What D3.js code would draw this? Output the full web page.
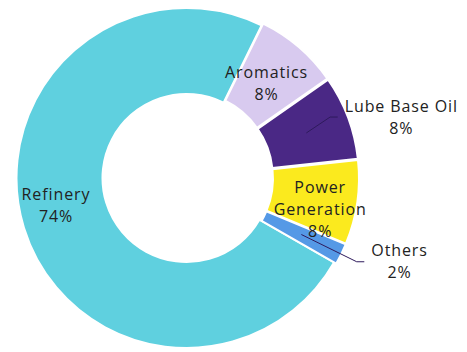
<!DOCTYPE html>
<html>
<head>
<meta charset="utf-8">
<script src="https://cdn.jsdelivr.net/npm/d3@7"></script>
<style>
  html, body { margin: 0; padding: 0; background: #ffffff; }
  svg { display: block; }
  text { font-family: "Open Sans", "DejaVu Sans", sans-serif; font-size: 16px; letter-spacing: 0.9px; fill: #222222; }
</style>
</head>
<body>
<svg id="chart" width="467" height="352"></svg>
<script>
// ---- Data ----
const categories = ["Refinery", "Aromatics", "Lube Base Oil", "Power Generation", "Others"];
const values = [74, 8, 8, 8, 2];
const colors = ["#5fd0df", "#d8caef", "#4a2885", "#fbea1e", "#5599e6"];
// label lines for each slice (category name may wrap)
const labelLines = [["Refinery"], ["Aromatics"], ["Lube Base Oil"], ["Power", "Generation"], ["Others"]];
const labelMode = ["inside", "inside", "outside", "inside", "outside"];

// ---- Layout ----
const W = 467, H = 352;
const cx = 186.5, cy = 178;
const outerR = 170, innerR = 84;
const pull = [0, 2.5, 2.5, 2.5, 2.5];
const startDeg = 119.8;
const insideLabel = { // radius + nudges for inside labels
  0: { r: 133, dx: -3.3, dy: -11.4 },
  1: { r: 123, dx: 0, dy: -1 },
  3: { r: 127, dx: 8, dy: 13 }
};
const outsideLabel = { // leader elbow radius + angle nudge
  2: { r: 156, da: -2.4 },
  4: { r: 189.7, da: 0 }
};
const lineH = 22;

const svg = d3.select("#chart");
const g = svg.append("g").attr("transform", `translate(${cx},${cy})`);

const data = categories.map((c, i) => ({ name: c, value: values[i], i }));
const rad = d => d * Math.PI / 180;
const pie = d3.pie().value(d => d.value).sort(null)
  .startAngle(rad(startDeg)).endAngle(rad(startDeg) + 2 * Math.PI);
const arcs = pie(data);
const arc = d3.arc().innerRadius(innerR).outerRadius(outerR);

const pt = (r, a) => [r * Math.sin(a), -r * Math.cos(a)];

g.selectAll("path.slice").data(arcs).enter().append("path")
  .attr("class", "slice")
  .attr("d", arc)
  .attr("fill", d => colors[d.data.i])
  .attr("stroke", "#ffffff")
  .attr("stroke-width", 2)
  .attr("transform", d => {
    const m = (d.startAngle + d.endAngle) / 2;
    const p = pt(pull[d.data.i], m);
    return `translate(${p[0]},${p[1]})`;
  });

function textBlock(x, yCenter, lines, anchor) {
  const n = lines.length;
  const y0 = yCenter - (n - 1) * lineH / 2 + 5.5;
  const t = g.append("text").attr("text-anchor", anchor);
  lines.forEach((ln, k) => {
    t.append("tspan").attr("x", x).attr("y", y0 + k * lineH).text(ln);
  });
  return t;
}

arcs.forEach(d => {
  const i = d.data.i;
  const m = (d.startAngle + d.endAngle) / 2;
  const lines = labelLines[i].concat([values[i] + "%"]);
  if (labelMode[i] === "inside") {
    const c = insideLabel[i];
    const p = pt(c.r, m);
    textBlock(p[0] + c.dx, p[1] + c.dy, lines, "middle");
  } else {
    const c = outsideLabel[i];
    const s = pt(128, m);
    const e = pt(c.r, m + rad(c.da));
    const hEnd = [e[0] + 7.6, e[1]];
    g.append("path")
      .attr("d", `M${s[0]},${s[1]}L${e[0]},${e[1]}L${hEnd[0]},${hEnd[1]}`)
      .attr("fill", "none")
      .attr("stroke", "#2e1a5c")
      .attr("stroke-width", 1);
    // measure widest line to center block
    const tmp = textBlock(0, 0, lines, "start");
    let w = 0;
    tmp.selectAll("tspan").each(function () { w = Math.max(w, this.getComputedTextLength()); });
    tmp.remove();
    textBlock(hEnd[0] + 7 + w / 2, hEnd[1], lines, "middle");
  }
});
</script>
</body>
</html>
